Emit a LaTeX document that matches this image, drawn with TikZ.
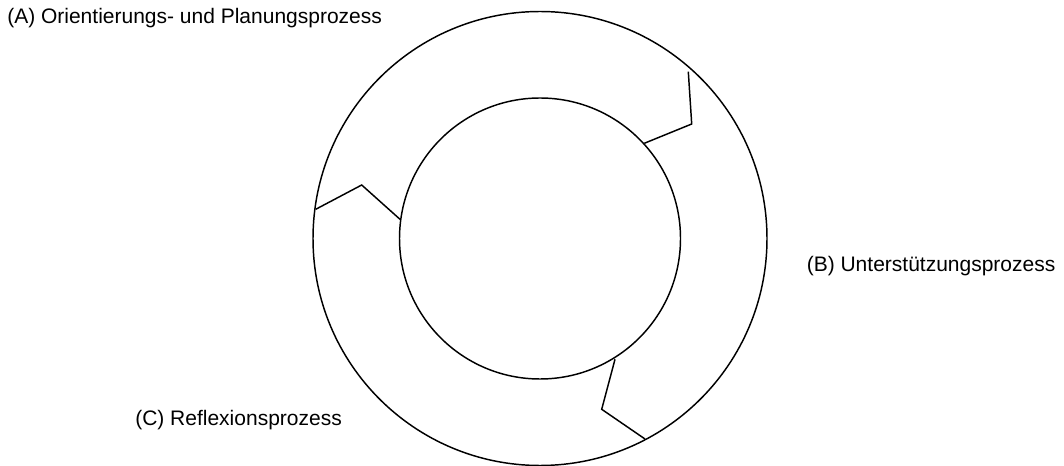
\documentclass[tikz,border=0pt]{standalone}
\usepackage{fontspec}
\setmainfont{Liberation Sans}
\begin{document}
\begin{tikzpicture}[x=0.75pt,y=-0.75pt,
  ring/.style={draw=black,line width=1.1pt},
  sep/.style={draw=black,line width=1.1pt,line join=miter},
  lbl/.style={anchor=base west,inner sep=0pt,font=\fontsize{15.75pt}{18pt}\selectfont}]
\useasboundingbox (0,0) rectangle (1064,466);
\coordinate (c) at (540,238.5);
\draw[ring] (c) circle[radius=227];
\draw[ring] (c) circle[radius=140.5];
% separators
\coordinate (a1) at (688.3,71.7);
\coordinate (a2) at (691.7,124);
\coordinate (a3) at (644.3,143.3);
\draw[sep] (a1) -- (a2) -- (a3);
\coordinate (b1) at (315.7,209.3);
\coordinate (b2) at (361.7,185);
\coordinate (b3) at (400,219.3);
\draw[sep] (b1) -- (b2) -- (b3);
\coordinate (d1) at (615,359.3);
\coordinate (d2) at (601.7,409.3);
\coordinate (d3) at (645,439);
\draw[sep] (d1) -- (d2) -- (d3);
\node[lbl] (A) at (7,24) {(A) Orientierungs- und Planungsprozess};
\node[lbl] (B) at (806.5,272) {(B) Unterstützungsprozess};
\node[lbl] (C) at (135,425.5) {(C) Reflexionsprozess};
\end{tikzpicture}
\end{document}
